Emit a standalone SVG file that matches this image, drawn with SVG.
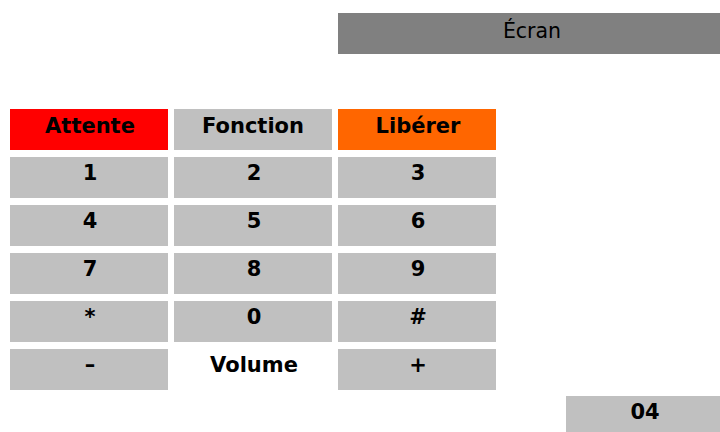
<svg xmlns="http://www.w3.org/2000/svg" width="720" height="432" viewBox="0 0 720 432">
<style>
.k{fill:#c0c0c0}
.t{font-family:"DejaVu Sans",Verdana,sans-serif;font-size:21px;font-weight:bold;fill:#000;text-anchor:middle}
.n{font-family:"DejaVu Sans",Verdana,sans-serif;font-size:20.5px;fill:#000;text-anchor:middle}
</style>
<rect width="720" height="432" fill="#fff"/>
<g id="ecran"><rect x="338" y="13" width="382" height="41" fill="#808080"/><text class="n" x="532" y="37.5">Écran</text></g>
<g id="attente"><rect x="10" y="109" width="158" height="41" fill="#ff0000"/><text class="t" x="90" y="132.5">Attente</text></g>
<g id="fonction"><rect class="k" x="174" y="109" width="158" height="41"/><text class="t" x="253" y="132.5">Fonction</text></g>
<g id="liberer"><rect x="338" y="109" width="158" height="41" fill="#ff6600"/><text class="t" x="418" y="132.5">Libérer</text></g>
<g id="k1"><rect class="k" x="10" y="157" width="158" height="41"/><text class="t" x="90" y="180">1</text></g>
<g id="k2"><rect class="k" x="174" y="157" width="158" height="41"/><text class="t" x="254" y="180">2</text></g>
<g id="k3"><rect class="k" x="338" y="157" width="158" height="41"/><text class="t" x="418" y="180">3</text></g>
<g id="k4"><rect class="k" x="10" y="205" width="158" height="41"/><text class="t" x="90" y="228">4</text></g>
<g id="k5"><rect class="k" x="174" y="205" width="158" height="41"/><text class="t" x="254" y="228">5</text></g>
<g id="k6"><rect class="k" x="338" y="205" width="158" height="41"/><text class="t" x="418" y="228">6</text></g>
<g id="k7"><rect class="k" x="10" y="253" width="158" height="41"/><text class="t" x="90" y="276">7</text></g>
<g id="k8"><rect class="k" x="174" y="253" width="158" height="41"/><text class="t" x="254" y="276">8</text></g>
<g id="k9"><rect class="k" x="338" y="253" width="158" height="41"/><text class="t" x="418" y="276">9</text></g>
<g id="kstar"><rect class="k" x="10" y="301" width="158" height="41"/><text class="t" x="90" y="324">*</text></g>
<g id="k0"><rect class="k" x="174" y="301" width="158" height="41"/><text class="t" x="254" y="324">0</text></g>
<g id="khash"><rect class="k" x="338" y="301" width="158" height="41"/><text class="t" x="418" y="324">#</text></g>
<g id="kminus"><rect class="k" x="10" y="349" width="158" height="41"/><text class="t" x="90" y="372">–</text></g>
<g id="volume"><text class="t" x="254" y="372">Volume</text></g>
<g id="kplus"><rect class="k" x="338" y="349" width="158" height="41"/><text class="t" x="418" y="372">+</text></g>
<g id="page"><rect class="k" x="566" y="396" width="154" height="36"/><text class="t" x="645" y="418.5">04</text></g>
</svg>
